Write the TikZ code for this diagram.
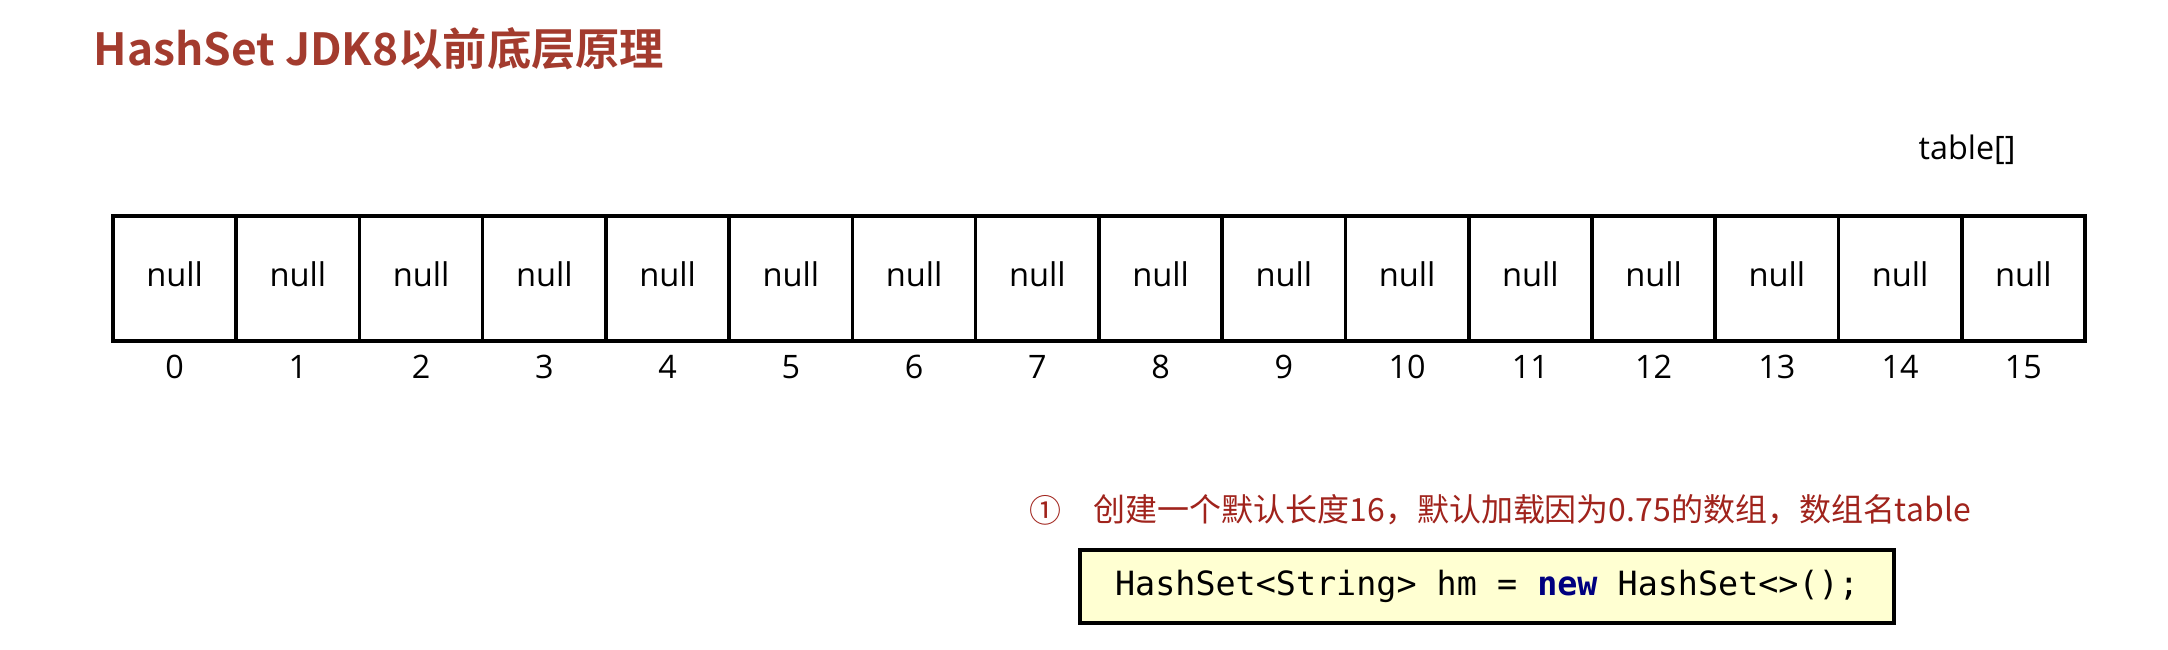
\documentclass[tikz,border=0pt]{standalone}
\usepackage{fontspec}
\setmainfont{Open Sans}
\setmonofont{DejaVu Sans Mono}
\newfontfamily\cjk{Noto Sans CJK SC}
\newfontfamily\cjkbold{Noto Sans CJK SC Bold}
\usepackage{tikz}
\usetikzlibrary{positioning}
\definecolor{titlered}{HTML}{A33B2E}
\definecolor{notered}{HTML}{A0231C}
\definecolor{codebg}{HTML}{FFFFD2}
\definecolor{keyblue}{HTML}{000080}
\tikzset{
  slot/.style={draw=black, line width=1pt, minimum width=1.2325cm, minimum height=1.25cm, inner sep=0pt, font=\fontsize{9.3}{11}\selectfont},
  idx/.style={font=\fontsize{9.2}{11}\selectfont},
  codebox/.style={draw=black, line width=1pt, fill=codebg, minimum width=8.14cm, minimum height=0.73cm, inner sep=0pt, font=\ttfamily\fontsize{9.5}{11}\selectfont}
}

\begin{document}
\begin{tikzpicture}
    \useasboundingbox (0,0) rectangle (21.68,6.5);
    \node[anchor=base west, text=titlered, font=\cjkbold\fontsize{12.6}{15}\selectfont, inner sep=0pt] (title) at (0.93,5.84) {HashSet JDK8以前底层原理};
    \node[idx] (tablename) at (19.67,5.0) {table[]};
    % array slots with their indices
    \foreach \i in {0,...,15} {
        \node[slot, text depth=0.5ex] (cell\i) at ({1.746+1.2325*\i},3.715) {null};
        \node[idx] (idx\i) at ({1.746+1.2325*\i},2.83) {\i};
    }
    \node[text=notered, font=\cjk\fontsize{9.1}{11}\selectfont] (step1) at (10.45,1.40) {①};
    \node[anchor=west, text=notered, font=\cjk\fontsize{9.1}{11}\selectfont, inner sep=0pt] (note1) at (10.93,1.40) {创建一个默认长度16，默认加载因为0.75的数组，数组名table};
    \node[codebox] (code) at (14.87,0.635) {HashSet<String> hm = \textbf{\textcolor{keyblue}{new}} HashSet<>();};
\end{tikzpicture}
\end{document}
